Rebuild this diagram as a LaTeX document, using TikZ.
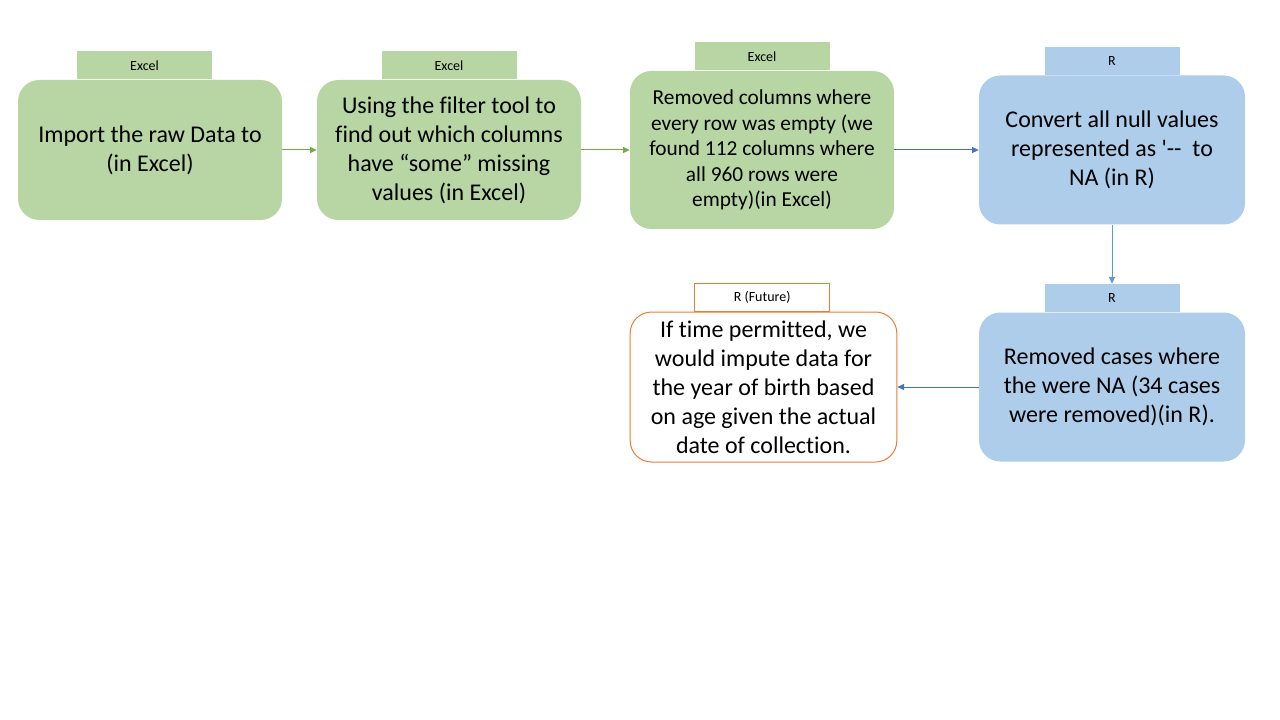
\documentclass[tikz,border=0pt]{standalone}
\usepackage{fontspec}
\setmainfont[Ligatures=NoCommon]{Carlito}
\usetikzlibrary{arrows.meta}
\definecolor{excelgreen}{HTML}{B7D6A3}
\definecolor{rblue}{HTML}{AECDEA}
\definecolor{futureorange}{HTML}{ED7D31}
\definecolor{greenline}{HTML}{70AD47}
\definecolor{blueline}{HTML}{4472C4}
\definecolor{lightblueline}{HTML}{5B9BD5}
\begin{document}
\begin{tikzpicture}[x=0.75pt,y=-0.75pt,
  card/.style={rounded corners=16pt, minimum width=198pt, minimum height=105pt, inner sep=0pt, align=center, font=\fontsize{18}{21.75}\selectfont},
  tab/.style={minimum width=101.25pt, minimum height=21pt, inner sep=0pt, anchor=south, font=\fontsize{10.5}{12}\selectfont},
  flow/.style={-{Triangle[length=5pt,width=4.5pt]}, line width=0.75pt}]
\useasboundingbox (0,0) rectangle (1280,720);
% excel steps
\node[card, fill=excelgreen] (import) at (150,150) {Import the raw Data to\\(in Excel)};
\node[tab, fill=excelgreen] (importtab) at ([xshift=-4.1pt]import.north) {Excel};
\node[card, fill=excelgreen] (filter) at (449,150) {Using the filter tool to\\find out which columns\\have “some” missing\\values (in Excel)};
\node[tab, fill=excelgreen] (filtertab) at (filter.north) {Excel};
\node[card, fill=excelgreen, minimum height=118.5pt, font=\fontsize{16}{19.1}\selectfont] (dropcols) at (762,150) {Removed columns where\\every row was empty (we\\found 112 columns where\\all 960 rows were\\empty)(in Excel)};
\node[tab, fill=excelgreen] (dropcolstab) at (dropcols.north) {Excel};
% r steps
\node[card, fill=rblue, minimum width=199.5pt, minimum height=111.75pt] (convert) at (1112,150) {Convert all null values\\represented as \textquotesingle\mbox{-}\mbox{-}\ \ to\\NA (in R)};
\node[tab, fill=rblue] (converttab) at (convert.north) {R};
\node[card, fill=rblue, minimum width=199.5pt, minimum height=111.75pt] (dropcases) at (1112,387) {Removed cases where\\the were NA (34 cases\\were removed)(in R).};
\node[tab, fill=rblue] (dropcasestab) at (dropcases.north) {R};
\node[card, draw=futureorange, fill=white, line width=0.75pt, minimum width=200pt, minimum height=112.5pt] (impute) at (763.5,387) {If time permitted, we\\would impute data for\\the year of birth based\\on age given the actual\\date of collection.};
\node[tab, draw=futureorange, fill=white, line width=0.75pt] (imputetab) at ([xshift=-1pt]impute.north) {R (Future)};
% connectors
\draw[flow, greenline] (import) -- (filter);
\draw[flow, greenline] (filter) -- (dropcols);
\draw[flow, blueline] (dropcols) -- (convert);
\draw[flow, lightblueline] (convert) -- (dropcasestab);
\draw[flow, blueline] (dropcases) -- (impute);
\end{tikzpicture}
\end{document}
